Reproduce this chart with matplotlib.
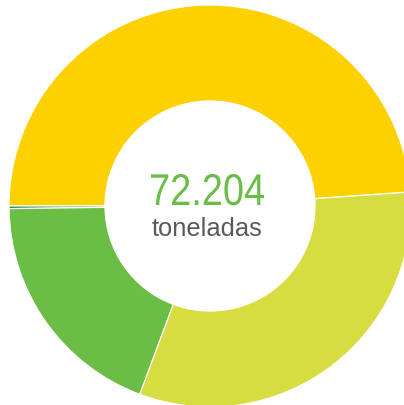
import matplotlib
matplotlib.use("Agg")
import matplotlib.pyplot as plt
from matplotlib.textpath import TextPath
from matplotlib.font_manager import FontProperties
from matplotlib.patches import PathPatch
from matplotlib.transforms import Affine2D

# tonnes per category
labels = ["amarelo", "azul", "verde", "verde-claro"]
values = [35300, 150, 13800, 22954]
colors = ["#FDD000", "#1B7E5A", "#6ABD45", "#D7DD40"]
total_label = "72.204"
unit_label = "toneladas"

W, H = 404, 405
fig = plt.figure(figsize=(W / 100, H / 100), dpi=100)
ax = fig.add_axes([0, 0, 1, 1])

cx, cy = 210, H - 206
r_out, r_in = 201, 105

ax.pie(values, colors=colors, startangle=4, counterclock=True,
       center=(cx, cy), radius=r_out, frame=True,
       wedgeprops=dict(width=r_out - r_in, edgecolor="white", linewidth=0.9))
ax.set_xlim(0, W)
ax.set_ylim(0, H)
ax.set_aspect("equal")
ax.axis("off")

# condensed big number: draw the glyph outlines and squeeze them horizontally
tp = TextPath((0, 0), total_label, size=44.5,
              prop=FontProperties(family="Liberation Sans"))
ext = tp.get_extents()
sx = 113 / ext.width
tr = Affine2D().translate(-ext.x0, 0).scale(sx, 1).translate(151, H - 205)
ax.add_patch(PathPatch(tr.transform_path(tp), facecolor="#6ABD45",
                       edgecolor="none"))

ax.text(207.5, H - 236, unit_label, ha="center", va="baseline",
        fontsize=18.4, color="#58595B",
        family=["Liberation Sans", "DejaVu Sans"])

fig.savefig("out.png", dpi=100)
